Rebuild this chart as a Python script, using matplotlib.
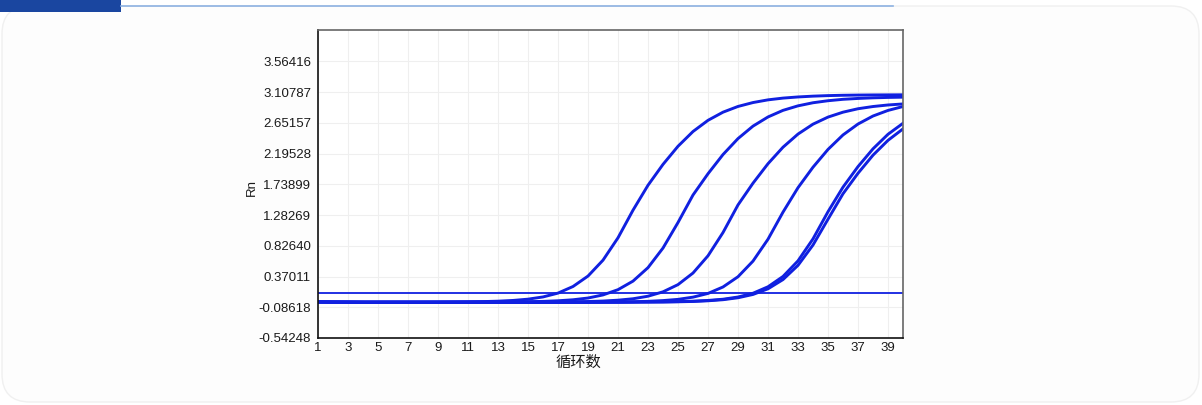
import matplotlib
matplotlib.use("Agg")
import matplotlib.pyplot as plt
from matplotlib.patches import FancyBboxPatch, Rectangle

# data
cycles = list(range(1, 41))
g1 = [-0.006, -0.008, -0.009, -0.010, -0.010, -0.010, -0.010, -0.010, -0.009, -0.007,
      -0.005, -0.002, 0.004, 0.015, 0.034, 0.067, 0.124, 0.222, 0.377, 0.613,
      0.945, 1.355, 1.725, 2.035, 2.304, 2.523, 2.689, 2.810, 2.895, 2.953,
      2.993, 3.019, 3.036, 3.048, 3.056, 3.061, 3.064, 3.066, 3.067, 3.068]
g2 = [-0.006, -0.008, -0.009, -0.010, -0.010, -0.010, -0.010, -0.010, -0.010, -0.010,
      -0.010, -0.009, -0.008, -0.006, -0.004, 0.001, 0.010, 0.025, 0.051, 0.097,
      0.175, 0.302, 0.502, 0.793, 1.172, 1.580, 1.896, 2.181, 2.418, 2.603,
      2.739, 2.837, 2.904, 2.950, 2.980, 3.001, 3.014, 3.023, 3.029, 3.033]
g3 = [-0.006, -0.008, -0.009, -0.010, -0.010, -0.010, -0.010, -0.010, -0.010, -0.010,
      -0.010, -0.010, -0.010, -0.010, -0.010, -0.009, -0.007, -0.005, -0.001, 0.006,
      0.019, 0.040, 0.078, 0.143, 0.250, 0.422, 0.678, 1.023, 1.433, 1.756,
      2.045, 2.290, 2.485, 2.632, 2.737, 2.810, 2.861, 2.894, 2.917, 2.932]
g4 = [-0.008, -0.010, -0.011, -0.012, -0.012, -0.012, -0.012, -0.012, -0.012, -0.012,
      -0.012, -0.012, -0.012, -0.012, -0.012, -0.012, -0.012, -0.012, -0.011, -0.010,
      -0.008, -0.004, 0.002, 0.013, 0.031, 0.064, 0.119, 0.215, 0.367, 0.599,
      0.924, 1.326, 1.689, 1.993, 2.257, 2.472, 2.634, 2.753, 2.836, 2.894]
g5a = [-0.008, -0.010, -0.011, -0.012, -0.012, -0.012, -0.012, -0.012, -0.012, -0.012,
       -0.012, -0.012, -0.012, -0.012, -0.012, -0.012, -0.012, -0.012, -0.012, -0.011,
       -0.010, -0.009, -0.007, -0.006, -0.002, 0.004, 0.015, 0.033, 0.066, 0.122,
       0.218, 0.371, 0.603, 0.929, 1.332, 1.697, 2.002, 2.266, 2.482, 2.645]
g5b = [-0.009, -0.011, -0.012, -0.013, -0.013, -0.013, -0.013, -0.013, -0.013, -0.013,
       -0.013, -0.013, -0.013, -0.013, -0.013, -0.013, -0.013, -0.013, -0.013, -0.012,
       -0.012, -0.011, -0.010, -0.008, -0.005, 0.000, 0.010, 0.026, 0.055, 0.104,
       0.188, 0.325, 0.536, 0.838, 1.221, 1.599, 1.903, 2.172, 2.392, 2.562]
threshold = 0.12

yticks = [-0.54248, -0.08618, 0.37011, 0.82640, 1.28269, 1.73899, 2.19528, 2.65157, 3.10787, 3.56416]
xticks = list(range(1, 40, 2))

blue = '#1020e0'

fig = plt.figure(figsize=(12.02, 4.05), dpi=100)

# background card + header strip (pixel coords)
bg = fig.add_axes([0, 0, 1, 1])
bg.set_xlim(0, 1202)
bg.set_ylim(405, 0)
bg.axis('off')
bg.add_patch(FancyBboxPatch((2, 6), 1197, 396, boxstyle="round,pad=0,rounding_size=28",
                            facecolor='#fdfdfd', edgecolor='#f0f0f0', linewidth=1))
bg.plot([121, 893], [6, 6], color='#8db2e2', linewidth=1.2)
bg.add_patch(Rectangle((0, 0), 121, 12, facecolor='#1a46a0', edgecolor='none'))

ax = fig.add_axes([318 / 1202, 1 - 338 / 405, 585 / 1202, 308 / 405])
ax.set_facecolor('white')

for ys in [g5b, g5a, g4, g3, g2, g1]:
    ax.plot(cycles, ys, color=blue, linewidth=2.1, solid_joinstyle='round')
ax.axhline(threshold, color=blue, linewidth=1.3)

ax.set_xlim(1, 40)
ax.set_ylim(-0.54248, 4.03)
ax.set_xticks(xticks)
ax.set_yticks(yticks)
ax.set_yticklabels(['%.5f' % v for v in yticks])
ax.tick_params(length=0, labelsize=9.5, colors='#1a1a1a')
ax.tick_params(axis='y', pad=5)
ax.tick_params(axis='x', pad=3)
for lab in ax.get_xticklabels() + ax.get_yticklabels():
    lab.set_fontfamily('Liberation Sans')
ax.grid(True, color='#efefef', linewidth=0.8)
ax.set_axisbelow(True)
for side in ['left', 'bottom']:
    ax.spines[side].set_color('#111111')
    ax.spines[side].set_linewidth(1.2)
for side in ['top', 'right']:
    ax.spines[side].set_color('#666666')
    ax.spines[side].set_linewidth(1.2)

fig.text(252 / 1202, 1 - 188 / 405, 'Rn', rotation=90, ha='center', va='center',
         fontsize=9.5, family='Liberation Sans', color='#1a1a1a')
fig.text(578 / 1202, 1 - 362 / 405, '循环数', ha='center', va='center',
         fontsize=11, family=['Noto Sans CJK SC', 'DejaVu Sans'], color='#1a1a1a')

fig.savefig('out.png', dpi=100)
